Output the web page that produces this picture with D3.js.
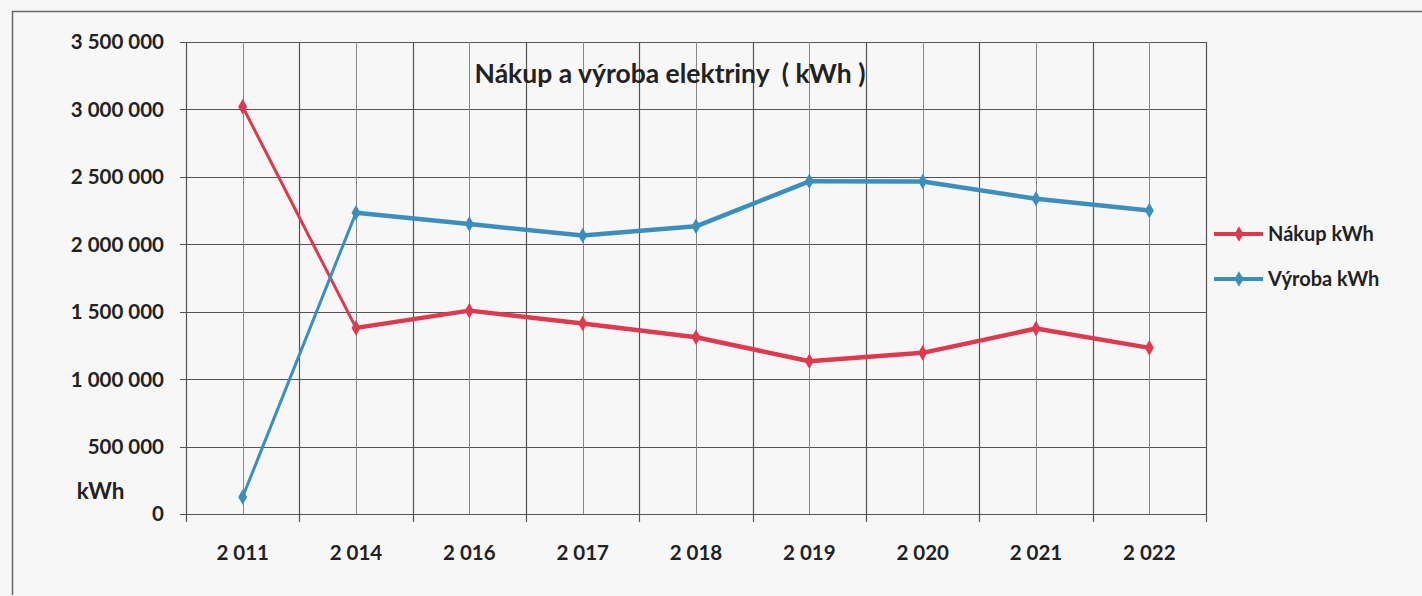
<!DOCTYPE html>
<html><head><meta charset="utf-8">
<script src="https://cdn.jsdelivr.net/npm/d3@7"></script>
<style>
html,body{margin:0;padding:0;background:#f7f7f8;}
svg{display:block;}
text{font-family:Lato,"Open Sans",sans-serif;font-weight:bold;fill:#222;}
</style></head><body>
<svg id="c" width="1422" height="596"></svg>
<script>
const years = ["2 011","2 014","2 016","2 017","2 018","2 019","2 020","2 021","2 022"];
const nakup = [3020000,1380000,1508000,1412000,1311000,1133000,1195000,1375000,1232000];
const vyroba = [126000,2234000,2150000,2065000,2133000,2467000,2465000,2338000,2250000];
const yTicks = [0,500000,1000000,1500000,2000000,2500000,3000000,3500000];
const seriesNames = ["Nákup kWh","Výroba kWh"];
const colors = ["#e0384d","#3a8fbf"];
const title = "Nákup a výroba elektriny  ( kWh )";
const unitLabel = "kWh";

const svg = d3.select("#c");
const W=1422,H=596;
const L=186,R=1206,T=42,B=514;

svg.append("path").attr("d",`M12.5,595 V11.5 H${W}`).attr("fill","none").attr("stroke","#666").attr("stroke-width",1.5);

const x = d3.scaleBand().domain(years).range([L,R]);
const y = d3.scaleLinear().domain([0,3500000]).range([B,T]);

const g = svg.append("g");
g.selectAll(".hg").data(yTicks).join("line")
  .attr("x1",L-6).attr("x2",R).attr("y1",d=>Math.round(y(d))+0.5).attr("y2",d=>Math.round(y(d))+0.5)
  .attr("stroke","#555").attr("stroke-width",1.2);
g.selectAll(".vc").data(years).join("line")
  .attr("x1",d=>Math.round(x(d)+x.bandwidth()/2)+0.5).attr("x2",d=>Math.round(x(d)+x.bandwidth()/2)+0.5)
  .attr("y1",T).attr("y2",B).attr("stroke","#888").attr("stroke-width",1);
const bounds = years.map(d=>x(d)).concat([R]);
g.selectAll(".vb").data(bounds).join("line")
  .attr("x1",d=>Math.round(d)+0.5).attr("x2",d=>Math.round(d)+0.5)
  .attr("y1",T).attr("y2",B+8).attr("stroke","#555").attr("stroke-width",1.2);

g.selectAll(".yl").data(yTicks).join("text")
  .attr("x",164).attr("y",d=>y(d)).attr("dy","0.36em").attr("text-anchor","end")
  .attr("font-size",20.5).text(d=>d3.format(",")(d).replace(/,/g," "));
g.selectAll(".xl").data(years).join("text")
  .attr("x",d=>x(d)+x.bandwidth()/2).attr("y",553).attr("dy","0.36em").attr("text-anchor","middle")
  .attr("font-size",20.5).text(d=>d);

svg.append("text").attr("x",100.5).attr("y",491).attr("dy","0.36em").attr("text-anchor","middle").attr("font-size",22.5).text(unitLabel);
svg.append("text").attr("x",670).attr("y",73).attr("dy","0.36em").attr("text-anchor","middle")
  .attr("font-size",26.5).style("white-space","pre").text(title);

const cx = d=>x(d)+x.bandwidth()/2;
const diamond = d3.symbol().type(d3.symbolDiamond).size(70);
[nakup,vyroba].forEach((vals,si)=>{
  const pts = years.map((yr,i)=>[cx(yr),y(vals[i])]);
  const sg = svg.append("g");
  sg.selectAll("line").data(d3.pairs(pts)).join("line")
    .attr("x1",d=>d[0][0]).attr("y1",d=>d[0][1]).attr("x2",d=>d[1][0]).attr("y2",d=>d[1][1])
    .attr("stroke",colors[si]).attr("stroke-width",(d,i)=>i===0?3:4.5).attr("stroke-linecap","round");
  sg.selectAll("path").data(pts).join("path")
    .attr("transform",d=>`translate(${d[0]},${d[1]})`).attr("d",diamond).attr("fill",colors[si]);
});

const lg = svg.append("g");
[0,1].forEach(i=>{
  const ly = 234 + i*45;
  lg.append("line").attr("x1",1214).attr("x2",1263).attr("y1",ly).attr("y2",ly).attr("stroke",colors[i]).attr("stroke-width",4);
  lg.append("path").attr("transform",`translate(1239,${ly})`).attr("d",diamond).attr("fill",colors[i]);
  lg.append("text").attr("x",1268).attr("y",ly).attr("dy","0.36em").attr("font-size",20).text(seriesNames[i]);
});
</script></body></html>
